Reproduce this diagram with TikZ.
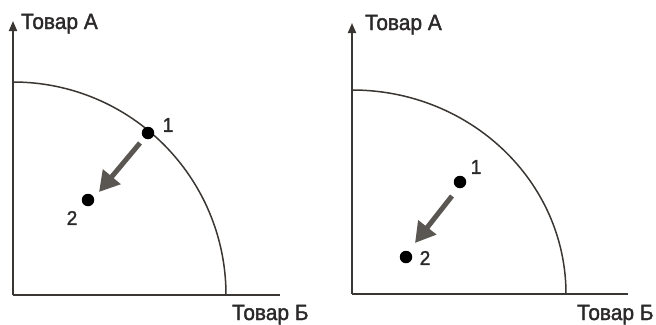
\documentclass[tikz,border=0pt]{standalone}
\usepackage{fontspec}
\setmainfont{Liberation Sans}
\newfontfamily\lblfont{Liberation Sans}[FakeBold=1.6,FakeStretch=0.95]
\usetikzlibrary{arrows.meta}
\definecolor{ln}{HTML}{3A3633}
\definecolor{arr}{HTML}{5A5652}
\definecolor{txt}{HTML}{2A2828}
\tikzset{
  axis/.style={draw=ln,line width=1.8pt},
  axisarrow/.style={axis,-{Triangle[length=10pt,width=8pt]}},
  ppf/.style={draw=ln,line width=1.5pt},
  dot/.style={circle,fill=black,inner sep=0pt,minimum size=12.5pt},
  shift arrow/.style={draw=arr,line width=5pt,-{Triangle[length=20pt,width=22pt]}},
  lbl/.style={text=txt,font=\lblfont\fontsize{22}{24}\selectfont,inner sep=0pt},
  num/.style={text=txt,font=\lblfont\fontsize{20}{22}\selectfont,inner sep=0pt}
}
\begin{document}
\begin{tikzpicture}[x=1pt,y=-1pt]
\useasboundingbox (0,0) rectangle (656,324);
% ---------- left panel ----------
\coordinate (oL) at (13,295);
\coordinate (yL) at (13,21);
\coordinate (xL) at (280,295);
\draw[axisarrow] (oL) -- (yL);
\draw[axis] (oL) -- (xL);
\draw[ppf] (13,82) arc[start angle=-90,end angle=0,radius=213];
\node[dot] (p1L) at (148,133) {};
\node[dot] (p2L) at (88,200) {};
\draw[shift arrow] (140,143) -- (99,192);
\node[num] (n1L) at (168,125) {1};
\node[num] (n2L) at (72,218) {2};
\node[lbl,anchor=base west] (aL) at (21,29) {Товар А};
\node[lbl,anchor=base west] (bL) at (232,320) {Товар Б};
% ---------- right panel ----------
\coordinate (oR) at (352,294);
\coordinate (yR) at (352,23);
\coordinate (xR) at (628,294);
\draw[axisarrow] (oR) -- (yR);
\draw[axis] (oR) -- (xR);
\draw[ppf] (352,90) arc[start angle=-90,end angle=0,x radius=214,y radius=204];
\node[dot] (p1R) at (460,182) {};
\node[dot] (p2R) at (406,257) {};
\draw[shift arrow] (452,196) -- (415,243);
\node[num] (n1R) at (476,167) {1};
\node[num] (n2R) at (425,258) {2};
\node[lbl,anchor=base west] (aR) at (365,30) {Товар А};
\node[lbl,anchor=base west] (bR) at (577,320) {Товар Б};
\end{tikzpicture}
\end{document}
